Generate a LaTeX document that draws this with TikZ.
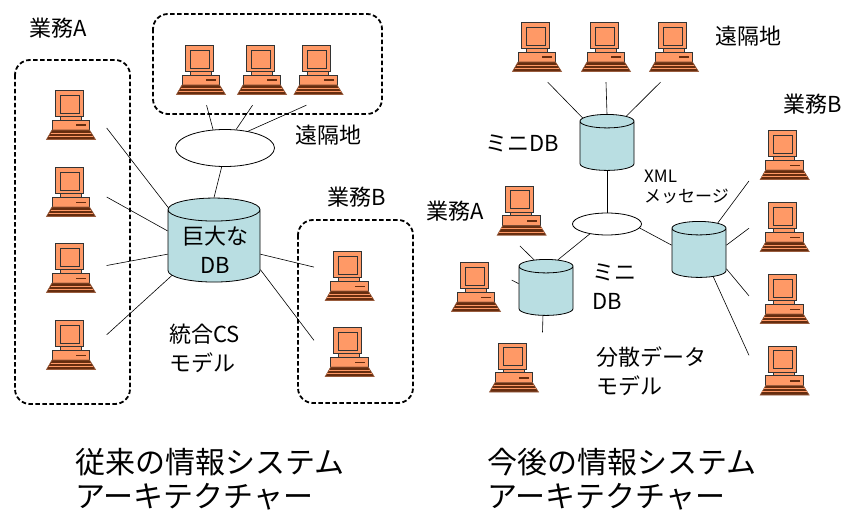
\documentclass[tikz,border=0pt]{standalone}
\usepackage{fontspec}
\setmainfont{Noto Sans CJK JP}
\usetikzlibrary{shapes.geometric}

\definecolor{pcorange}{RGB}{255,153,102}
\definecolor{pcbrown}{RGB}{102,45,15}
\definecolor{dbcyan}{RGB}{185,222,226}

%% one desktop computer, drawn around (0,0), y grows downwards
\newcommand{\pcicon}{%
  \draw[fill=pcorange,draw=black!80,line width=0.6pt] (-11,1.5) rectangle (10,5);
  \draw[fill=pcorange,draw=black!80,line width=0.9pt] (-16,-24.5) rectangle (12,1.5);
  \draw[draw=black!80,line width=0.8pt] (-11,-20) rectangle (8,-2);
  \draw[fill=pcorange,draw=black!80,line width=0.6pt] (-19,5) rectangle (18.5,15);
  \fill[pcbrown] (5,9.5) rectangle (15,11);
  \draw[fill=pcbrown,draw=pcorange!60!black,line width=0.6pt]
    (-19,15) -- (18.5,15) -- (24.5,24.5) -- (-24.5,24.5) -- cycle;
  \draw[pcorange,line width=0.7pt] (-20.5,18) -- (20.3,18) (-22.4,21.3) -- (22.4,21.3);
}

\begin{document}
\begin{tikzpicture}
[x=1pt,y=-1pt,
  pc/.style={minimum width=71pt,minimum height=70pt,inner sep=0pt,
    path picture={\begin{scope}[shift={(path picture bounding box.center)}]
      \pcicon
    \end{scope}}},
  db/.style={cylinder,shape border rotate=90,aspect=0.25,draw,line width=0.8pt,
    cylinder uses custom fill,cylinder body fill=dbcyan,cylinder end fill=dbcyan,
    inner sep=0pt},
  minidb/.style={db,minimum height=56pt},
  net/.style={ellipse,draw,line width=0.8pt,fill=white,inner sep=0pt},
  group/.style={draw,line width=1.8pt,dash pattern=on 4.5pt off 2.5pt,rounded corners=15pt},
  link/.style={draw,line width=0.6pt},
  label/.style={font=\fontsize{22}{29}\selectfont,inner sep=0pt,align=left},
  title/.style={font=\fontsize{30}{34}\selectfont,inner sep=0pt,align=left,anchor=west}]
\useasboundingbox (0,0) rectangle (847,511);

%% dashed groups of the old system
\draw[group] (15,60) rectangle (130,404);
\draw[group] (153,14) rectangle (382,114);
\draw[group] (298,220) rectangle (413,403);

%% databases and networks
\node[db,minimum height=84pt] (bigdb) at (214,246) {\hspace*{92pt}};
\node[label,align=center] (bigdbtext) at (215,250) {巨大な\\DB};
\node[net,minimum width=99pt,minimum height=37pt] (bignet) at (225,148) {};
\node[minidb] (m1) at (607,146) {\hspace*{54pt}};
\node[minidb] (m2) at (546,291) {\hspace*{54pt}};
\node[minidb] (m3) at (699,253) {\hspace*{54pt}};
\node[net,minimum width=69pt,minimum height=22pt] (net) at (607,224) {};

%% computers
\foreach \name/\x/\y in {a1/71/115, a2/71/192, a3/71/268, a4/71/345,
  r1/201/70, r2/262/70, r3/318.5/70, b1/349.7/276, b2/349.7/352,
  t1/537/47, t2/606/47, t3/674/47, c1/784.7/155, c2/784.7/227, c3/784.7/299,
  c4/784.7/370.5, d1/521.7/210.7, d2/476/287, d3/514/367.5} {
  \node[pc] (\name) at (\x,\y) {};
}

%% lines
\foreach \from/\to in {bigdb.140/a1.-20, bigdb.162/a2.-8, bigdb.190/a3.4,
  bigdb.215/a4.16, bigdb.90/bignet.260, bignet.123/r1.-81, bignet.59/r2.-105,
  bignet.36/r3.-109, bigdb.-10/b1.166, bigdb.-27/b2.162,
  m1.131/t1.-73, m1.90/t2.-90, m1.57/t3.-111, m1.-90/net.90,
  net.-7/m3.164, net.210/m2.69, m3.58/c1.-144, m3.16/c2.182,
  m3.-30/c3.175, m3.-59/c4.157, m2.111/d1.-93, m2.165/d2.11, m2.-97/d3.51} {
  \draw[link] (\from) -- (\to);
}

%% labels
\node[label] (gyomuA) at (58,28) {業務A};
\node[label] (enkaku) at (328,135.5) {遠隔地};
\node[label] (gyomuB) at (357,197) {業務B};
\node[label,anchor=west] (tougou) at (169,348.5) {統合CS\\モデル};
\node[label] (enkaku2) at (748,36) {遠隔地};
\node[label] (minidb) at (522,143) {ミニDB};
\node[label,font=\fontsize{17}{20.5}\selectfont,anchor=west] (xml) at (644,187) {XML\\メッセージ};
\node[label] (gyomuB2) at (813,104) {業務B};
\node[label] (gyomuA2) at (455,211) {業務A};
\node[label,anchor=west] (minidb2) at (592,286.5) {ミニ\\DB};
\node[label,anchor=west] (bunsan) at (596,371) {分散データ\\モデル};

%% titles
\node[title] (oldsys) at (75,479.6) {従来の情報システム\\アーキテクチャー};
\node[title] (newsys) at (487,479.6) {今後の情報システム\\アーキテクチャー};
\end{tikzpicture}
\end{document}
